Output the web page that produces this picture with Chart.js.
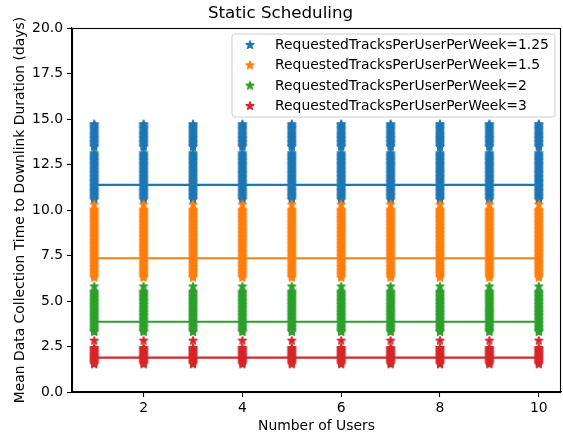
<!DOCTYPE html>
<html>
<head>
<meta charset="utf-8">
<script src="https://cdn.jsdelivr.net/npm/chart.js@4/dist/chart.umd.min.js"></script>
<style>
html,body{margin:0;padding:0;background:#fff;}
#c{display:block;}
</style>
</head>
<body>
<canvas id="c" width="563" height="444"></canvas>
<script>
// ---------- data ----------
const users = [1, 2, 3, 4, 5, 6, 7, 8, 9, 10];
const seriesLabels = [
  'RequestedTracksPerUserPerWeek=1.25',
  'RequestedTracksPerUserPerWeek=1.5',
  'RequestedTracksPerUserPerWeek=2',
  'RequestedTracksPerUserPerWeek=3'
];
const seriesColors = ['#1f77b4', '#ff7f0e', '#2ca02c', '#d62728'];
// per-run mean durations observed at each user count (same spread at every x)
const durations125 = [14.72, 14.66, 14.58, 14.5, 14.44, 14.36, 14.27, 14.2, 14.12, 14.04, 13.97,
  13.9, 13.82, 13.75, 13.68, 13.6, 13.53, 13.46,
  13.12, 13.05, 12.98, 12.9, 12.83, 12.76, 12.69, 12.61, 12.54, 12.47, 12.4, 12.33, 12.25,
  12.18, 12.11, 12.04, 11.97, 11.9, 11.82, 11.75, 11.68, 11.61, 11.54, 11.47, 11.4, 11.33,
  11.26, 11.19, 11.12, 11.05, 10.98, 10.91, 10.84, 10.77, 10.7, 10.63, 10.56];
const durations15 = [10.3, 10.02, 9.95, 9.88, 9.8, 9.72, 9.65, 9.57, 9.5, 9.42, 9.35, 9.27,
  9.2, 9.12, 9.05, 8.97, 8.9, 8.82, 8.75, 8.67, 8.6, 8.52, 8.45, 8.37, 8.3, 8.22, 8.15, 8.07,
  8.0, 7.92, 7.85, 7.77, 7.7, 7.62, 7.55, 7.47, 7.4, 7.32, 7.25, 7.17, 7.1, 7.02, 6.95, 6.87,
  6.8, 6.72, 6.65, 6.57, 6.5, 6.42, 6.35, 6.28];
const durations2 = [5.8, 5.52, 5.45, 5.38, 5.3, 5.23, 5.15, 5.08, 5.0, 4.93, 4.85, 4.78, 4.7,
  4.63, 4.55, 4.48, 4.4, 4.33, 4.25, 4.18, 4.1, 4.03, 3.95, 3.88, 3.8, 3.73, 3.65, 3.58, 3.5,
  3.43, 3.36, 3.3];
const durations3 = [2.82, 2.42, 2.36, 2.3, 2.24, 2.18, 2.12, 2.06, 2.0, 1.94, 1.88, 1.82,
  1.76, 1.7, 1.64, 1.58, 1.52];
const meanDurations = [11.38, 7.35, 3.86, 1.89];
const xTickValues = [2, 4, 6, 8, 10];
const yTickValues = [0, 2.5, 5, 7.5, 10, 12.5, 15, 17.5, 20];

// ---------- star marker ----------
function makeStar(color) {
  const s = 14, c = document.createElement('canvas');
  c.width = s; c.height = s;
  const g = c.getContext('2d');
  const R = 4.15, r = R * 0.381966;
  g.beginPath();
  for (let i = 0; i < 10; i++) {
    const a = -Math.PI / 2 + i * Math.PI / 5;
    const rad = i % 2 === 0 ? R : r;
    const px = s / 2 + rad * Math.cos(a), py = s / 2 + rad * Math.sin(a);
    if (i === 0) g.moveTo(px, py); else g.lineTo(px, py);
  }
  g.closePath();
  g.fillStyle = color; g.strokeStyle = color; g.lineWidth = 1.39; g.lineJoin = 'round';
  g.fill(); g.stroke();
  return c;
}
const stars = seriesColors.map(makeStar);

const allDurations = [durations125, durations15, durations2, durations3];
const datasets = [];
allDurations.forEach((vals, i) => {
  const pts = [];
  users.forEach(u => vals.forEach(v => pts.push({x: u, y: v})));
  datasets.push({
    type: 'scatter', label: seriesLabels[i], data: pts,
    pointStyle: stars[i], pointRadius: 5, pointHoverRadius: 5,
    backgroundColor: seriesColors[i], borderColor: seriesColors[i],
    order: 100 - 2 * i
  });
  datasets.push({
    type: 'line', label: seriesLabels[i] + ' mean',
    data: users.map(u => ({x: u, y: meanDurations[i]})),
    borderColor: seriesColors[i], borderWidth: 2.1, pointRadius: 0,
    fill: false, order: 99 - 2 * i
  });
});

const FONT = 'DejaVu Sans';
Chart.defaults.font.family = FONT;
Chart.defaults.font.size = 13.9;
Chart.defaults.color = '#000';

const framePlugin = {
  id: 'frame',
  afterDraw(chart) {
    const {ctx, chartArea: a} = chart;
    ctx.save();
    ctx.strokeStyle = '#000'; ctx.lineWidth = 1.1;
    ctx.strokeRect(Math.round(a.left) + 0.5, Math.round(a.top) + 0.5,
      Math.round(a.right - a.left) - 1, Math.round(a.bottom - a.top));
    // legend
    const bx = 232, by = 34, bw = 323, bh = 83, rr = 3;
    ctx.beginPath();
    ctx.moveTo(bx + rr, by); ctx.lineTo(bx + bw - rr, by);
    ctx.quadraticCurveTo(bx + bw, by, bx + bw, by + rr);
    ctx.lineTo(bx + bw, by + bh - rr);
    ctx.quadraticCurveTo(bx + bw, by + bh, bx + bw - rr, by + bh);
    ctx.lineTo(bx + rr, by + bh);
    ctx.quadraticCurveTo(bx, by + bh, bx, by + bh - rr);
    ctx.lineTo(bx, by + rr);
    ctx.quadraticCurveTo(bx, by, bx + rr, by);
    ctx.closePath();
    ctx.fillStyle = 'rgba(255,255,255,0.8)'; ctx.fill();
    ctx.strokeStyle = '#cccccc'; ctx.lineWidth = 1; ctx.stroke();
    ctx.font = '13.9px "' + FONT + '"';
    ctx.fillStyle = '#000'; ctx.textBaseline = 'middle'; ctx.textAlign = 'left';
    seriesLabels.forEach((lab, i) => {
      const y = 45 + i * 20.3;
      ctx.drawImage(stars[i], 250 - 7, y - 7);
      ctx.fillText(lab, 275, y + 0.5);
    });
    ctx.restore();
  }
};

new Chart(document.getElementById('c'), {
  data: {datasets},
  options: {
    responsive: false, animation: false, devicePixelRatio: 1,
    layout: {autoPadding: false, padding: {left: 0, right: 2, top: 0, bottom: 0}},
    plugins: {
      legend: {display: false}, tooltip: {enabled: false},
      title: {display: true, text: 'Static Scheduling', color: '#000',
        font: {size: 16.7, weight: 'normal', family: FONT},
        padding: {top: 4, bottom: 4}}
    },
    scales: {
      x: {
        type: 'linear', min: 0.55, max: 10.45,
        afterBuildTicks: s => { s.ticks = xTickValues.map(v => ({value: v})); },
        afterFit: s => { s.height = 52; s.paddingLeft = 0; s.paddingRight = 0; },
        ticks: {padding: 3, maxRotation: 0, color: '#000', callback: v => String(v)},
        grid: {drawOnChartArea: false, drawTicks: true, tickLength: 5, tickColor: '#000', tickWidth: 1.1},
        border: {display: true, color: '#000', width: 1.1},
        title: {display: true, text: 'Number of Users', color: '#000', padding: {top: 0, bottom: 9}}
      },
      y: {
        type: 'linear', min: 0, max: 20,
        afterBuildTicks: s => { s.ticks = yTickValues.map(v => ({value: v})); },
        afterFit: s => { s.width = 72; s.paddingTop = 0; s.paddingBottom = 0; },
        ticks: {padding: 4, color: '#000', callback: v => Number(v).toFixed(1)},
        grid: {drawOnChartArea: false, drawTicks: true, tickLength: 5, tickColor: '#000', tickWidth: 1.1},
        border: {display: true, color: '#000', width: 1.1},
        title: {display: true, text: 'Mean Data Collection Time to Downlink Duration (days)', color: '#000', padding: {top: 12, bottom: 0}}
      }
    }
  },
  plugins: [framePlugin]
});
</script>
</body>
</html>
